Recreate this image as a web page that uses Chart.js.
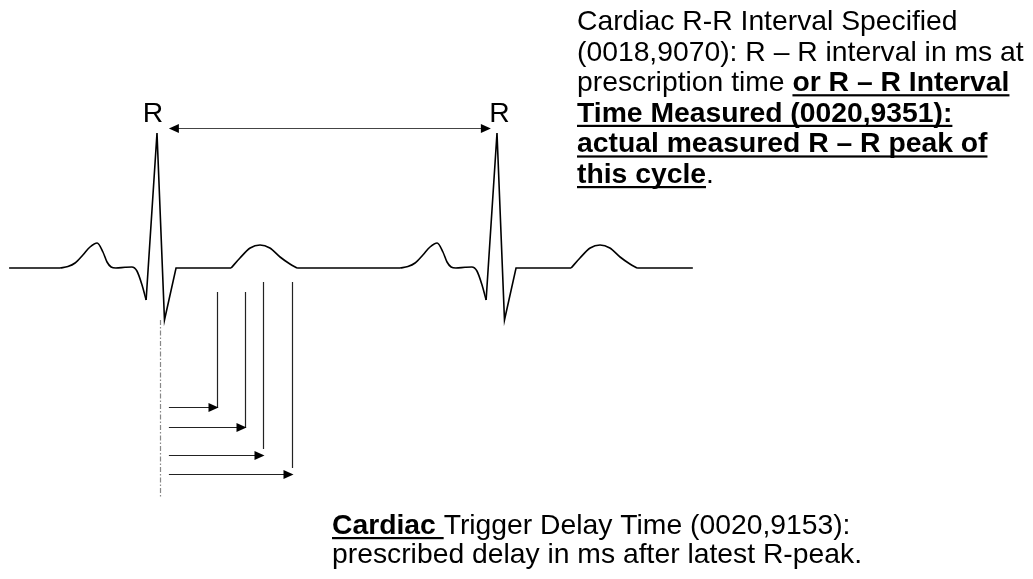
<!DOCTYPE html>
<html>
<head>
<meta charset="utf-8">
<script src="https://cdn.jsdelivr.net/npm/chart.js@4.4.1/dist/chart.umd.min.js"></script>
<style>
    html, body { margin: 0; padding: 0; background: #fff; }
    #wrap { width: 1033px; height: 579px; }
</style>
</head>
<body>
<div id="wrap"><canvas id="ecg" width="1033" height="579"></canvas></div>
<script>
// Time in ms (first R peak = 0), amplitude in mV

// Rounded parts of the trace (P wave + Q, T wave) for both beats, null = gap
const smoothT = [
    -285, -262, -241, -218, -197, -176, -159, -147, -135, -121, -94, -74, -59, -44, -32, -32,
    218, 244, 274, 303, 332, 362, 391, 412, 412,
    715, 738, 759, 782, 803, 824, 841, 853, 865, 879, 906, 926, 941, 956, 968, 968,
    1218, 1244, 1274, 1303, 1332, 1362, 1391, 1412
];
const smoothV = [
    0, 0.015, 0.05, 0.13, 0.21, 0.25, 0.16, 0.06, 0.01, 0, 0.007, 0.01, -0.03, -0.17, -0.32, null,
    0, 0.10, 0.20, 0.23, 0.20, 0.11, 0.04, 0, null,
    0, 0.015, 0.05, 0.13, 0.21, 0.25, 0.16, 0.06, 0.01, 0, 0.007, 0.01, -0.03, -0.17, -0.32, null,
    0, 0.10, 0.20, 0.23, 0.20, 0.11, 0.04, 0
];

// Straight parts (baseline, Q-R-S spike)
const straightT = [-435, -285, -285, -32, 0, 22, 56, 218, 218, 412, 715, 715, 968, 1000, 1022, 1056, 1218, 1218, 1412, 1576];
const straightV = [0, 0, null, -0.32, 1.35, -0.52, 0, 0, null, 0, 0, null, -0.32, 1.35, -0.52, 0, 0, null, 0, 0];

// R-R interval and trigger delays (ms after R)
const rPeakTimes = [0, 1000];
const rLabels = ['R', 'R'];
const delayTimes = [176, 259, 312, 397];

// layout of the annotation marks (data units)
const rLabelT = [-12, 1007];
const rLabelV = 1.46;
const rrArrow = { from: 35, to: 982, v: 1.40 };
const triggerLine = { t: 9, top: -0.52, bottom: -2.30 };
const delayTop = [-0.24, -0.24, -0.14, -0.14];
const delayBottom = [-1.40, -1.60, -1.81, -2.00];
const delayArrowV = [-1.39, -1.59, -1.87, -2.06];
const delayArrowStart = 35;

// text notes: [text, bold+underline]
const rrNote = [
    [['Cardiac R-R Interval Specified', 0]],
    [['(0018,9070): R \u2013 R interval in ms at', 0]],
    [['prescription time ', 0], ['or R \u2013 R Interval', 1]],
    [['Time Measured (0020,9351):', 1]],
    [['actual measured R \u2013 R peak of', 1]],
    [['this cycle', 1], ['.', 0]]
];
const delayNote = [
    [['Cardiac ', 1], ['Trigger Delay Time (0020,9153):', 0]],
    [['prescribed delay in ms after latest R-peak.', 0]]
];

const FONT = '"Liberation Sans", Arial, sans-serif';
const FONT_SIZE = 28.3;

function toPoints(ts, vs) {
    return ts.map((t, i) => ({ x: t, y: vs[i] }));
}

function arrowHead(ctx, x, y, dir) {
    ctx.beginPath();
    ctx.moveTo(x, y);
    ctx.lineTo(x - dir * 10, y - 4.5);
    ctx.lineTo(x - dir * 10, y + 4.5);
    ctx.closePath();
    ctx.fill();
}

function drawNote(ctx, lines, x, y0, lineHeight) {
    lines.forEach((parts, li) => {
        let cx = x;
        const y = y0 + li * lineHeight;
        parts.forEach(([text, strong]) => {
            ctx.font = (strong ? 'bold ' : '') + FONT_SIZE + 'px ' + FONT;
            ctx.fillText(text, cx, y);
            const w = ctx.measureText(text).width;
            if (strong) ctx.fillRect(cx, y + 3, w, 2.2);
            cx += w;
        });
    });
}

const annotations = {
    id: 'annotations',
    afterDatasetsDraw(chart) {
        const { ctx } = chart;
        const xs = chart.scales.x, ys = chart.scales.y;
        const px = t => xs.getPixelForValue(t);
        const py = v => ys.getPixelForValue(v);
        ctx.save();

        // R labels
        ctx.fillStyle = '#000';
        ctx.font = FONT_SIZE + 'px ' + FONT;
        ctx.textAlign = 'center';
        ctx.textBaseline = 'alphabetic';
        rPeakTimes.forEach((t, i) => ctx.fillText(rLabels[i], px(rLabelT[i]), py(rLabelV)));

        // R-R double arrow
        ctx.strokeStyle = '#444';
        ctx.lineWidth = 1.2;
        const ay = Math.round(py(rrArrow.v)) + 0.5;
        ctx.beginPath();
        ctx.moveTo(px(rrArrow.from) + 6, ay);
        ctx.lineTo(px(rrArrow.to) - 6, ay);
        ctx.stroke();
        arrowHead(ctx, px(rrArrow.from), ay, -1);
        arrowHead(ctx, px(rrArrow.to), ay, 1);

        // trigger line (dash-dot)
        ctx.strokeStyle = '#888';
        ctx.lineWidth = 1.2;
        ctx.setLineDash([5, 2, 1.5, 2]);
        const tx = Math.round(px(triggerLine.t)) + 0.5;
        ctx.beginPath();
        ctx.moveTo(tx, py(triggerLine.top));
        ctx.lineTo(tx, py(triggerLine.bottom));
        ctx.stroke();
        ctx.setLineDash([]);

        // delay markers
        ctx.strokeStyle = '#222';
        ctx.lineWidth = 1.2;
        delayTimes.forEach((d, i) => {
            const x = Math.round(px(d)) + 0.5;
            ctx.beginPath();
            ctx.moveTo(x, py(delayTop[i]));
            ctx.lineTo(x, py(delayBottom[i]));
            ctx.stroke();
            const y = Math.round(py(delayArrowV[i])) + 0.5;
            ctx.beginPath();
            ctx.moveTo(px(delayArrowStart), y);
            ctx.lineTo(x - 6, y);
            ctx.stroke();
            arrowHead(ctx, x + 1, y, 1);
        });

        // notes
        ctx.textAlign = 'left';
        ctx.fillStyle = '#000';
        drawNote(ctx, rrNote, 577, 30, 30.6);
        drawNote(ctx, delayNote, 332, 534, 29);

        ctx.restore();
    }
};

const traceStyle = {
    borderColor: '#000',
    borderWidth: 1.6,
    pointRadius: 0,
    fill: false,
    spanGaps: false
};

new Chart(document.getElementById('ecg'), {
    type: 'line',
    data: {
        datasets: [
            Object.assign({ data: toPoints(smoothT, smoothV), cubicInterpolationMode: 'monotone' }, traceStyle),
            Object.assign({ data: toPoints(straightT, straightV), tension: 0 }, traceStyle)
        ]
    },
    options: {
        responsive: false,
        devicePixelRatio: 1,
        animation: false,
        layout: { padding: 0 },
        scales: {
            x: { type: 'linear', min: -461.76, max: 2576.47, display: false },
            y: { type: 'linear', min: -3.11, max: 2.68, display: false }
        },
        plugins: { legend: { display: false }, tooltip: { enabled: false } }
    },
    plugins: [annotations]
});
</script>
</body>
</html>
